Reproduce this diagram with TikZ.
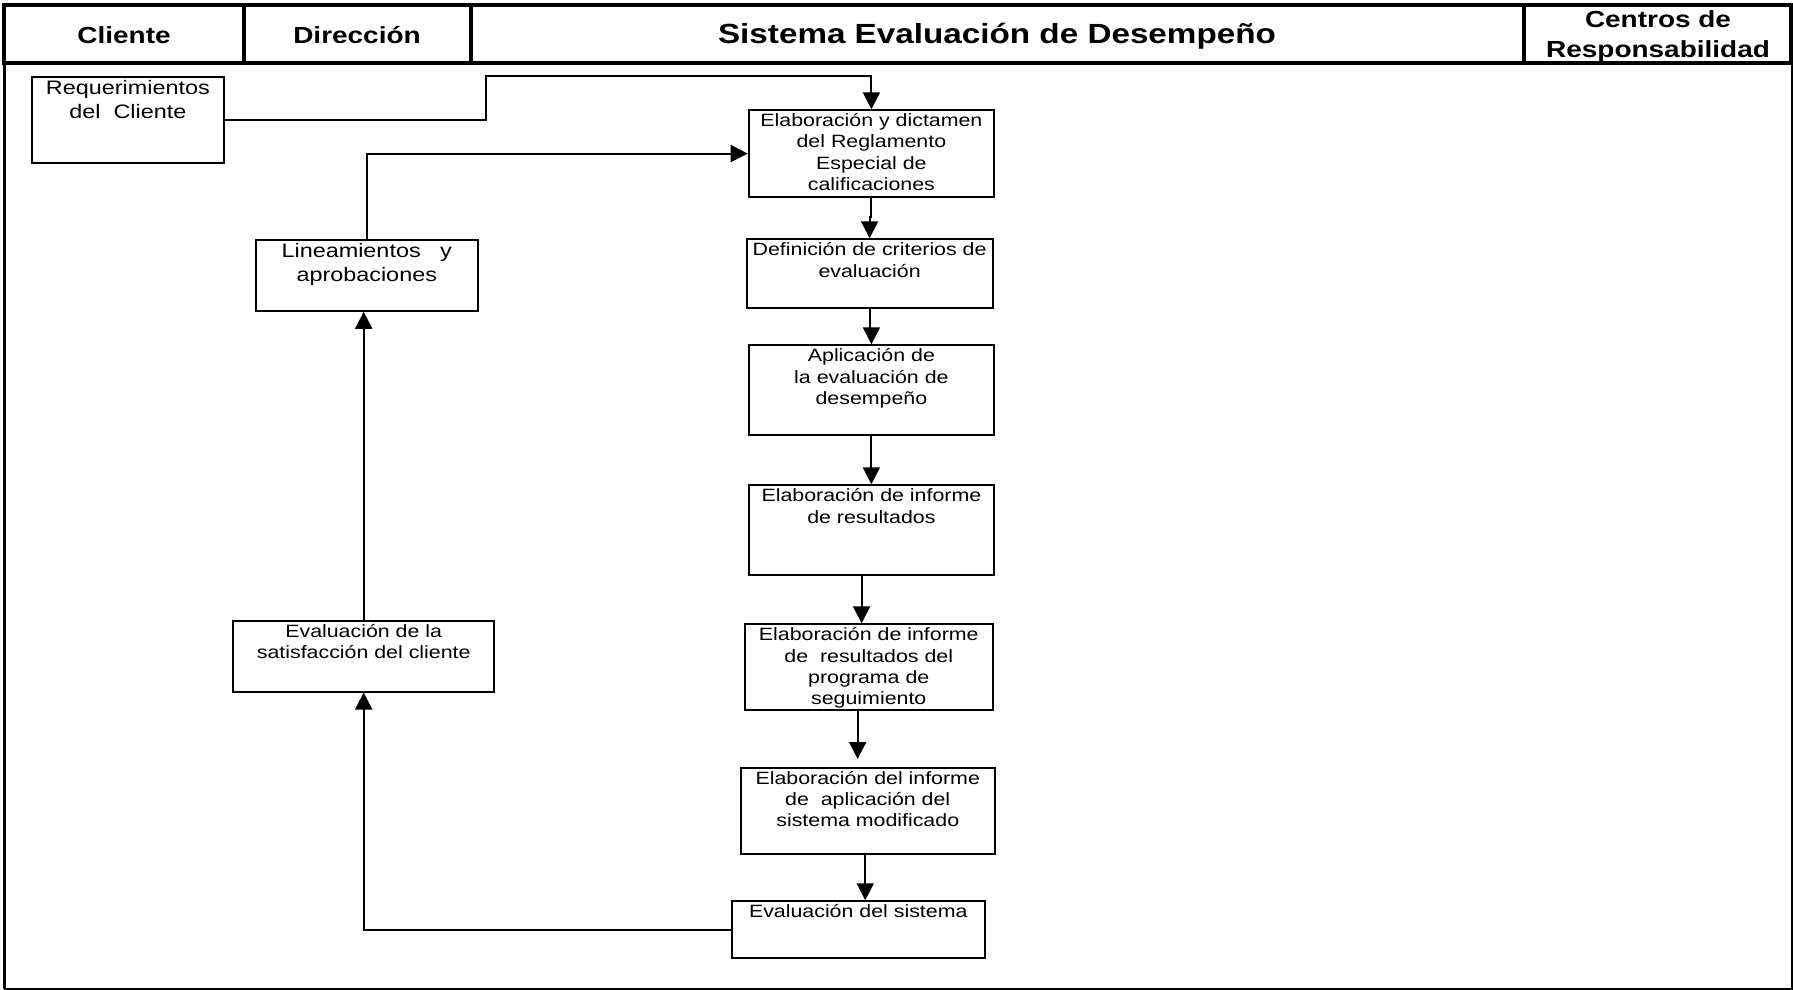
\documentclass[tikz,border=0pt]{standalone}
\usepackage{fontspec}
\setmainfont{Liberation Sans}[FakeStretch=1.2]
\usetikzlibrary{arrows.meta,calc}

% centred block of lines whose base is the first line
\newcommand{\bxt}[1]{\parbox[t]{300pt}{\centering #1}}

\tikzset{
  box/.style={draw, line width=1.8pt, inner sep=0pt, anchor=north west},
  txt/.style={inner sep=0pt, anchor=base, font=\fontsize{17.8}{21.2}\selectfont},
  txtL/.style={txt, font=\fontsize{19.5}{23.3}\selectfont},
  conn/.style={line width=2pt, -{Triangle[length=17pt,width=17pt]}},
  head/.style={inner sep=0pt, anchor=base, font=\bfseries\fontsize{23.3}{29.4}\selectfont},
  headL/.style={head, font=\bfseries\fontsize{27.7}{33}\selectfont},
  thickrule/.style={line width=4pt},
}

\begin{document}
\begin{tikzpicture}[x=1pt, y=-1pt]
\useasboundingbox (0,0) rectangle (1793,990);

% lane header and frame
\draw[thickrule] (4.3,5) rectangle (1791,62.7);
\draw[thickrule] (243.7,5) -- (243.7,62.7);
\draw[thickrule] (470.5,5) -- (470.5,62.7);
\draw[thickrule] (1523.7,5) -- (1523.7,62.7);
\draw[line width=3.3pt] (4.3,62.7) -- (4.3,989);
\draw[line width=2pt] (4.3,989) -- (1791.5,989) -- (1791.5,62.7);

\node[head] (h-cli) at (124,43.3) {Cliente};
\node[head] (h-dir) at (357,43.3) {Dirección};
\node[headL] (h-sis) at (997,43.5) {Sistema Evaluación de Desempeño};
\node[head] (h-cen) at (1658,27.8) {\bxt{Centros de\\Responsabilidad}};

% process boxes
\node[box, minimum width=192.6, minimum height=86.3] (req)   at (30.7,76)    {};
\node[box, minimum width=245.6, minimum height=86.7] (elab1) at (747.7,109.3) {};
\node[box, minimum width=221.7, minimum height=71.3] (lin)   at (255,238.7)  {};
\node[box, minimum width=246,   minimum height=69]   (def)   at (745.7,238.3) {};
\node[box, minimum width=245.6, minimum height=90]   (apl)   at (747.7,344.3) {};
\node[box, minimum width=245.6, minimum height=89.7] (inf)   at (747.7,484.3) {};
\node[box, minimum width=261,   minimum height=70.7] (sat)   at (232.3,620)  {};
\node[box, minimum width=247.7, minimum height=85.7] (inf2)  at (744,623.3)  {};
\node[box, minimum width=253.7, minimum height=86]   (inf3)  at (740,766.7)  {};
\node[box, minimum width=253.3, minimum height=57]   (eval)  at (730.7,900.3) {};

% box texts
\node[txtL] (req-t)   at ($(req.north)+(0,19)$)    {\bxt{Requerimientos\\del\ \ Cliente}};
\node[txtL] (lin-t)   at ($(lin.north)+(0,19)$)    {\bxt{Lineamientos\ \ \ y\\aprobaciones}};
\node[txt]  (elab1-t) at ($(elab1.north)+(0,17.4)$) {\bxt{Elaboración y dictamen\\del Reglamento\\Especial de\\calificaciones}};
\node[txt]  (def-t)   at ($(def.north)+(0,17.5)$)  {\bxt{Definición de criterios de\\evaluación}};
\node[txt]  (apl-t)   at ($(apl.north)+(0,17.5)$)  {\bxt{Aplicación de\\la evaluación de\\desempeño}};
\node[txt]  (inf-t)   at ($(inf.north)+(0,17.5)$)  {\bxt{Elaboración de informe\\de resultados}};
\node[txt]  (sat-t)   at ($(sat.north)+(0,17.3)$)  {\bxt{Evaluación de la\\satisfacción del cliente}};
\node[txt]  (inf2-t)  at ($(inf2.north)+(0,17.5)$) {\bxt{Elaboración de informe\\de\ \ resultados del\\programa de\\seguimiento}};
\node[txt]  (inf3-t)  at ($(inf3.north)+(0,17.3)$) {\bxt{Elaboración del informe\\de\ \ aplicación del\\sistema modificado}};
\node[txt]  (eval-t)  at ($(eval.north)+(0,17.3)$) {\bxt{Evaluación del sistema}};

% connectors
\coordinate (bend1) at (485.7,76);
\draw[conn] (req.east) -| (bend1) -| (elab1.north);
\draw[conn] (lin.north) |- (elab1.west);
\draw[conn] (elab1.south) -- ++(0,19) -| (def.north);
\draw[conn] (def.south) -- ++(0,19.4) -| (apl.north);
\draw[conn] (apl.south) -- (inf.north);
\draw[conn] ($(inf.south)+(-9.8,0)$) -- ($(inf.south |- inf2.north)+(-9.8,0)$);
\draw[conn] ($(inf2.south)+(-11.1,0)$) -- ($(inf2.south |- inf3.north)+(-11.1,-7.7)$);
\draw[conn] ($(inf3.south)+(-2.5,0)$) -- ($(inf3.south |- eval.north)+(-2.5,0)$);
\draw[conn] (eval.west) -| (sat.south);
\draw[conn] (sat.north) -- (sat.north |- lin.south);
\end{tikzpicture}
\end{document}
